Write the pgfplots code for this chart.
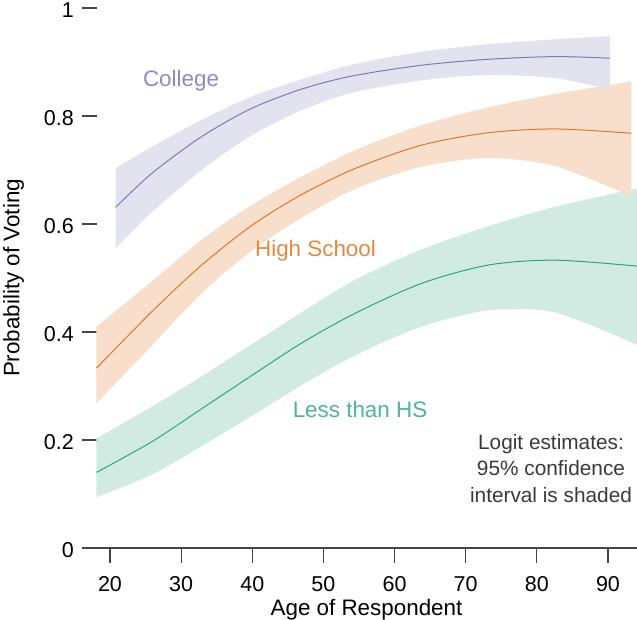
\documentclass[border=0pt]{standalone}
\usepackage{fontspec}
\setmainfont{Liberation Sans}
\usepackage{pgfplots}
\pgfplotsset{compat=1.18}
\usepackage{pgfplotstable}
\usepgfplotslibrary{fillbetween}

\definecolor{cLine}{HTML}{7E78BA}
\definecolor{cBand}{HTML}{E3E2EF}
\definecolor{cText}{HTML}{8F8AC5}
\definecolor{hLine}{HTML}{E0762A}
\definecolor{hBand}{HTML}{F8DFCC}
\definecolor{hText}{HTML}{E8883E}
\definecolor{lLine}{HTML}{2BA67B}
\definecolor{lBand}{HTML}{D2EBE2}
\definecolor{lText}{HTML}{4CB890}
\definecolor{axisgray}{HTML}{444444}
\definecolor{notegray}{HTML}{3A3A3A}

\pgfplotstableread{
age  fit   lo    hi
20.8 0.631 0.555 0.704
25.9 0.694 0.622 0.743
32.9 0.762 0.700 0.793
39.9 0.814 0.764 0.836
47.0 0.850 0.811 0.868
54.0 0.874 0.843 0.895
63.8 0.894 0.866 0.919
73.2 0.905 0.876 0.933
82.6 0.910 0.870 0.942
90.3 0.907 0.849 0.948
}\college

\pgfplotstableread{
age  fit   lo    hi
18.1 0.333 0.268 0.410
25.9 0.438 0.375 0.494
32.9 0.524 0.472 0.571
39.9 0.597 0.550 0.635
47.0 0.655 0.612 0.688
54.5 0.703 0.665 0.737
63.8 0.746 0.706 0.783
73.2 0.769 0.722 0.816
82.6 0.776 0.707 0.841
93.3 0.768 0.651 0.864
}\highschool

\pgfplotstableread{
age  fit   lo    hi
18.1 0.140 0.094 0.203
25.9 0.197 0.136 0.262
32.9 0.258 0.189 0.318
40.0 0.320 0.245 0.378
47.0 0.380 0.302 0.437
54.5 0.435 0.357 0.497
63.8 0.490 0.410 0.553
73.2 0.524 0.440 0.596
82.6 0.533 0.436 0.632
94.1 0.522 0.376 0.666
}\lessHS

\begin{document}
\begin{tikzpicture}
\begin{axis}[
  at={(0pt,0pt)}, anchor=south west,
  scale only axis, width=555pt, height=540pt,
  xmin=16.064, xmax=94.08, ymin=0, ymax=1,
  axis x line=bottom, axis y line=left,
  x axis line style={-, draw=axisgray, line width=1.1pt},
  y axis line style={-, draw=none},
  xtick={20,30,40,50,60,70,80,90},
  ytick={0,0.2,0.4,0.6,0.8,1},
  yticklabels={0,0.2,0.4,0.6,0.8,1},
  xtick align=outside, ytick align=inside,
  major tick length=15pt,
  tick style={draw=axisgray, line width=1.1pt},
  /pgf/number format/assume math mode=true,
  tick label style={font=\fontsize{21.5}{26}\selectfont, text=black},
  xticklabel style={inner sep=0pt, anchor=north, yshift=-13pt},
  yticklabel style={inner sep=0pt, anchor=east, xshift=-8pt, yshift=-2pt},
  clip=true,
]
% bands
\addplot[draw=none, smooth, name path=lhi, forget plot] table[x=age, y=hi] {\lessHS};
\addplot[draw=none, smooth, name path=llo, forget plot] table[x=age, y=lo] {\lessHS};
\addplot[fill=lBand, draw=none, forget plot] fill between[of=lhi and llo];
\addplot[draw=none, smooth, name path=hhi, forget plot] table[x=age, y=hi] {\highschool};
\addplot[draw=none, smooth, name path=hlo, forget plot] table[x=age, y=lo] {\highschool};
\addplot[fill=hBand, draw=none, forget plot] fill between[of=hhi and hlo];
\addplot[draw=none, smooth, name path=chi, forget plot] table[x=age, y=hi] {\college};
\addplot[draw=none, smooth, name path=clo, forget plot] table[x=age, y=lo] {\college};
\addplot[fill=cBand, draw=none, forget plot] fill between[of=chi and clo];
% fitted lines
\addplot[lLine, line width=1pt, smooth, no marks] table[x=age, y=fit] {\lessHS};
\addplot[hLine, line width=1pt, smooth, no marks] table[x=age, y=fit] {\highschool};
\addplot[cLine, line width=1pt, smooth, no marks] table[x=age, y=fit] {\college};
\end{axis}
% text labels (pixel positions converted to pt relative to axis corner)
\node[font=\fontsize{22.4}{26}\selectfont, text=cText, anchor=base] at (99pt,461pt) {College};
\node[font=\fontsize{22.4}{26}\selectfont, text=hText, anchor=base] at (233.5pt,291.5pt) {High School};
\node[font=\fontsize{22.4}{26}\selectfont, text=lText, anchor=base] at (278pt,130.5pt) {Less than HS};
\node[font=\fontsize{20.8}{25}\selectfont, text=notegray, anchor=base] at (469pt,99pt) {Logit estimates:};
\node[font=\fontsize{20.8}{25}\selectfont, text=notegray, anchor=base] at (469pt,72.3pt) {95\% confidence};
\node[font=\fontsize{20.8}{25}\selectfont, text=notegray, anchor=base] at (469pt,45.7pt) {interval is shaded};
\node[font=\fontsize{22.4}{26}\selectfont, rotate=90, anchor=base] at (-62.5pt,270pt) {Probability of Voting};
\node[font=\fontsize{22.4}{26}\selectfont, anchor=base] at (284.5pt,-67pt) {Age of Respondent};
\pgfresetboundingbox
\path[use as bounding box] (-82pt,-71pt) rectangle (555pt,548pt);
\end{tikzpicture}
\end{document}
